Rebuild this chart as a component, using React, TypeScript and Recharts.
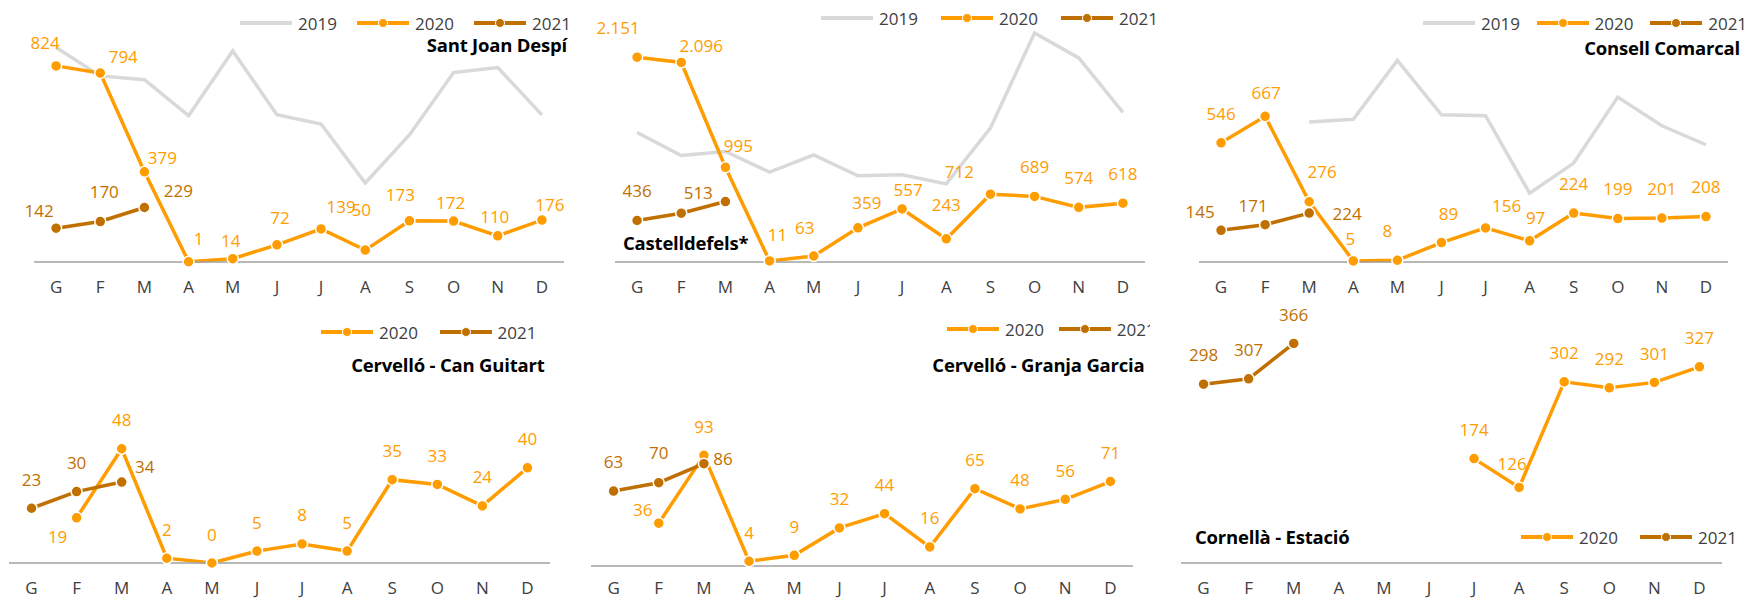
import React from "react";
import { LineChart, Line, XAxis, YAxis, LabelList } from "recharts";

const MONTHS = ["G", "F", "M", "A", "M", "J", "J", "A", "S", "O", "N", "D"];

// Sant Joan Despí
const santJoan2019 = [901, 782, 766, 615, 887, 619, 580, 332, 534, 796, 817, 618];
const santJoan2020 = [824, 794, 379, 1, 14, 72, 139, 50, 173, 172, 110, 176];
const santJoan2021 = [142, 170, 229];

// Castelldefels*
const castell2019 = [1361, 1119, 1161, 944, 1126, 905, 916, 821, 1407, 2407, 2144, 1572];
const castell2020 = [2151, 2096, 995, 11, 63, 359, 557, 243, 712, 689, 574, 618];
const castell2021 = [436, 513, 635];

// Consell Comarcal
const consell2019 = [null, null, 641, 654, 923, 674, 670, 315, 453, 755, 624, 537];
const consell2020 = [546, 667, 276, 5, 8, 89, 156, 97, 224, 199, 201, 208];
const consell2021 = [145, 171, 224];

// Cervelló - Can Guitart
const canGuitart2020 = [null, 19, 48, 2, 0, 5, 8, 5, 35, 33, 24, 40];
const canGuitart2021 = [23, 30, 34];

// Cervelló - Granja Garcia
const granja2020 = [null, 36, 93, 4, 9, 32, 44, 16, 65, 48, 56, 71];
const granja2021 = [63, 70, 86];

// Cornellà - Estació
const cornella2020 = [null, null, null, null, null, null, 174, 126, 302, 292, 301, 327];
const cornella2021 = [298, 307, 366];

const C2019 = "#D9D9D9";
const C2020 = "#FF9C00";
const C2021 = "#BF7000";
const FONT = "'Open Sans', 'Noto Sans', sans-serif";
const FS = 17;

type Off = Record<number, [number, number] | "hide">;

const fmt = (v: number) => String(v).replace(/\B(?=(\d{3})+(?!\d))/g, ".");

function rows(s19: (number | null)[] | null, s20: (number | null)[], s21: (number | null)[]) {
  return MONTHS.map((m, i) => ({
    i,
    y2019: s19 ? s19[i] ?? null : null,
    y2020: s20[i] ?? null,
    y2021: s21[i] ?? null,
  }));
}

function labelFn(color: string, dyDef: number, off: Off) {
  return (p: any) => {
    const { x, y, value, index } = p;
    if (value == null || x == null) return null;
    const o = off[index];
    if (o === "hide") return null;
    const [dx, dy] = o || [0, dyDef];
    return (
      <text x={x + dx} y={y + dy} textAnchor="middle" dominantBaseline="central" fill={color} fontSize={FS} fontFamily={FONT}>
        {fmt(value)}
      </text>
    );
  };
}

function Legend({ x, y, step, with2019 }: { x: number; y: number; step: number; with2019: boolean }) {
  const items = [
    ...(with2019 ? [{ name: "2019", color: C2019, dot: false }] : []),
    { name: "2020", color: C2020, dot: true },
    { name: "2021", color: C2021, dot: true },
  ];
  return (
    <div style={{ position: "absolute", left: x, top: y - 12, height: 24, display: "flex", alignItems: "center", whiteSpace: "nowrap" }}>
      {items.map((it) => (
        <div key={it.name} style={{ width: step, display: "flex", alignItems: "center", flexShrink: 0 }}>
          <svg width={52} height={12}>
            <line x1={0} y1={6} x2={52} y2={6} stroke={it.color} strokeWidth={4} />
            {it.dot && <circle cx={26} cy={6} r={4.5} fill={it.color} stroke="#fff" strokeWidth={1} />}
          </svg>
          <span style={{ marginLeft: 6, fontSize: FS, color: "#404040", fontFamily: FONT }}>{it.name}</span>
        </div>
      ))}
    </div>
  );
}

type Panel = {
  box: [number, number, number, number];
  plot: [number, number, number, number];
  max: number;
  s19: (number | null)[] | null;
  s20: (number | null)[];
  s21: (number | null)[];
  dy20: number;
  off20: Off;
  off21: Off;
  legend: [number, number, number];
  title: string;
  titleAt: [number, number];
  titleAlign: "left" | "right";
  tickGap?: number;
};

const panels: Panel[] = [
  {
    box: [0, 0, 584, 300],
    plot: [34, 24, 530, 238],
    max: 1000,
    s19: santJoan2019,
    s20: santJoan2020,
    s21: santJoan2021,
    dy20: -20,
    off20: { 0: [-11, -23], 1: [23, -17], 2: [18, -14], 3: [10, -23], 4: [-2, -18], 5: [3, -27], 6: [20, -22], 7: [-4, -41], 8: [-9, -26], 9: [-3, -19], 10: [-3, -19], 11: [8, -16] },
    off21: { 0: [-17, -18], 1: [4, -30], 2: [34, -17] },
    legend: [240, 23, 117],
    title: "Sant Joan Despí",
    titleAt: [567, 45],
    titleAlign: "right",
  },
  {
    box: [584, 0, 584, 300],
    plot: [615, 24, 530, 238],
    max: 2500,
    s19: castell2019,
    s20: castell2020,
    s21: castell2021,
    dy20: -30,
    off20: { 0: [-19, -30], 1: [20, -17], 2: [13, -22], 3: [8, -26], 4: [-9, -29], 5: [9, -25], 6: [6, -19], 7: [0, -34], 8: [-31, -23] },
    off21: { 0: [0, -30], 1: [17, -21], 2: "hide" },
    legend: [821, 18, 120],
    title: "Castelldefels*",
    titleAt: [623, 243],
    titleAlign: "left",
  },
  {
    box: [1168, 0, 584, 300],
    plot: [1199, 24, 529, 238],
    max: 1090,
    s19: consell2019,
    s20: consell2020,
    s21: consell2021,
    dy20: -30,
    off20: { 0: [0, -29], 1: [1, -24], 2: [13, -30], 3: [-3, -22], 4: [-10, -30], 5: [7, -29], 6: [21, -22], 7: [6, -23] },
    off21: { 0: [-21, -19], 1: [-12, -19], 2: [38, 0] },
    legend: [1423, 23, 113.6],
    title: "Consell Comarcal",
    titleAt: [1740, 48],
    titleAlign: "right",
  },
  {
    box: [0, 300, 584, 299],
    plot: [9, 325, 541, 238],
    max: 100,
    s19: null,
    s20: canGuitart2020,
    s21: canGuitart2021,
    dy20: -29,
    off20: { 1: [-19, 19] },
    off21: { 0: [0, -29], 1: [0, -29], 2: [23, -16] },
    legend: [321, 332, 118.5],
    title: "Cervelló - Can Guitart",
    titleAt: [544.5, 365],
    titleAlign: "right",
  },
  {
    box: [584, 300, 566, 299],
    plot: [591, 328, 542, 238],
    max: 200,
    s19: null,
    s20: granja2020,
    s21: granja2021,
    dy20: -29,
    off20: { 1: [-16, -14] },
    off21: { 0: [0, -30], 1: [0, -30], 2: [19, -5] },
    legend: [947, 329, 111.7],
    title: "Cervelló - Granja Garcia",
    titleAt: [1144.5, 365],
    titleAlign: "right",
    tickGap: 16,
  },
  {
    box: [1168, 300, 584, 299],
    plot: [1181, 323, 541, 240],
    max: 400,
    s19: null,
    s20: cornella2020,
    s21: cornella2021,
    dy20: -29,
    off20: { 7: [-7, -24] },
    off21: { 0: [0, -30], 1: [0, -29], 2: [0, -29] },
    legend: [1521, 537, 119],
    title: "Cornellà - Estació",
    titleAt: [1195, 537],
    titleAlign: "left",
  },
];

const MT = 40;
const MS = 50;

function PanelChart({ p }: { p: Panel }) {
  const [bx, by, bw, bh] = p.box;
  const [px, py, pw, ph] = p.plot;
  const data = rows(p.s19, p.s20, p.s21);
  const half = pw / MONTHS.length / 2;
  const dot = (c: string) => ({ r: 5.5, fill: c, stroke: "#fff", strokeWidth: 1.5 });
  return (
    <div style={{ position: "absolute", left: bx, top: by, width: bw, height: bh, overflow: "hidden" }}>
      <div style={{ position: "absolute", left: px - MS - bx, top: py - MT - by }}>
        <LineChart width={pw + 2 * MS} height={MT + ph + 40} data={data} margin={{ top: MT, right: MS, bottom: 10, left: MS }}>
          <XAxis
            dataKey="i"
            type="category"
            height={30}
            padding={{ left: half, right: half }}
            tickFormatter={(v: number) => MONTHS[v]}
            tickLine={false}
            tickSize={0}
            tickMargin={p.tickGap ?? 19}
            axisLine={{ stroke: "#A0A0A0", strokeWidth: 1.5 }}
            tick={{ fill: "#404040", fontSize: FS, fontFamily: FONT }}
            interval={0}
          />
          <YAxis hide domain={[0, p.max]} />
          {p.s19 && (
            <Line dataKey="y2019" stroke={C2019} strokeWidth={3.5} dot={false} activeDot={false} isAnimationActive={false} />
          )}
          <Line dataKey="y2020" stroke={C2020} strokeWidth={3.5} dot={dot(C2020)} activeDot={false} isAnimationActive={false}>
            <LabelList dataKey="y2020" content={labelFn(C2020, p.dy20, p.off20)} />
          </Line>
          <Line dataKey="y2021" stroke={C2021} strokeWidth={3.5} dot={dot(C2021)} activeDot={false} isAnimationActive={false}>
            <LabelList dataKey="y2021" content={labelFn(C2021, -29, p.off21)} />
          </Line>
        </LineChart>
      </div>
      <Legend x={p.legend[0] - bx} y={p.legend[1] - by} step={p.legend[2]} with2019={!!p.s19} />
      <div
        style={{
          position: "absolute",
          top: p.titleAt[1] - by - 13,
          height: 26,
          lineHeight: "26px",
          fontWeight: 700,
          fontSize: 18.5,
          letterSpacing: -0.2,
          color: "#000",
          fontFamily: FONT,
          whiteSpace: "nowrap",
          ...(p.titleAlign === "right" ? { right: bx + bw - p.titleAt[0] } : { left: p.titleAt[0] - bx }),
        }}
      >
        {p.title}
      </div>
    </div>
  );
}

export default function App() {
  return (
    <div style={{ position: "absolute", left: 0, top: 0, width: 1752, height: 599, background: "#fff", overflow: "hidden", fontFamily: FONT }}>
      {panels.map((p) => (
        <PanelChart key={p.title} p={p} />
      ))}
    </div>
  );
}
